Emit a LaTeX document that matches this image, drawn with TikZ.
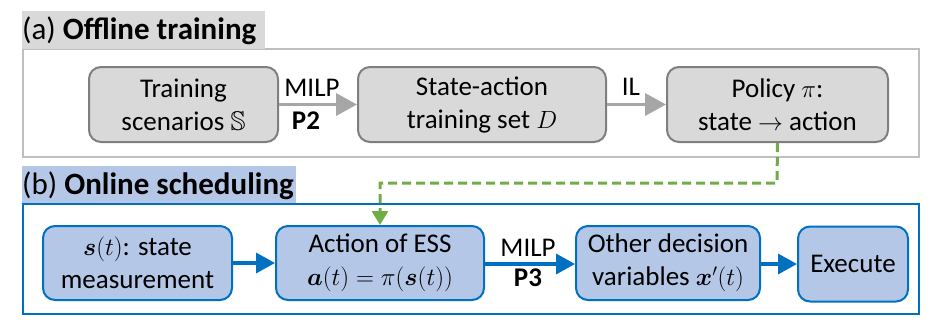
\documentclass[tikz,border=0pt]{standalone}
\usepackage{amsmath,amssymb,bm}
\usepackage{fontspec}
\setmainfont{Carlito}
\usetikzlibrary{arrows.meta,calc}
\definecolor{gfill}{HTML}{D9D9D9}
\definecolor{gborder}{HTML}{7F7F7F}
\definecolor{gouter}{HTML}{BFBFBF}
\definecolor{garrowc}{HTML}{A6A6A6}
\definecolor{bfill}{HTML}{B4C7E7}
\definecolor{bborder}{HTML}{0070C0}
\definecolor{grn}{HTML}{70AD47}
\tikzset{
  txt/.style={font=\fontsize{27}{33}\selectfont},
  ttl/.style={font=\fontsize{31}{36}\selectfont, inner sep=0pt},
  gbox/.style={txt, draw=gborder, fill=gfill, rounded corners=12pt, line width=2pt, align=center, inner sep=0pt},
  bbox/.style={txt, draw=bborder, fill=bfill, rounded corners=12pt, line width=2pt, align=center, inner sep=0pt},
  garrow/.style={draw=garrowc, line width=3.5pt, -{Triangle[length=21pt,width=22pt]}},
  barrow/.style={draw=bborder, line width=3.5pt, -{Triangle[length=19pt,width=20pt]}},
  gnarrow/.style={draw=grn, line width=3pt, dash pattern=on 9pt off 5pt, -{Triangle[length=14pt,width=16pt]}},
  lbl/.style={txt, inner sep=0pt},
}
\begin{document}
\begin{tikzpicture}[x=1pt,y=-1pt]
\useasboundingbox (0,0) rectangle (933,325);
% (a) offline
\node[draw=gouter, line width=1.5pt, minimum width=896pt, minimum height=108pt, anchor=north west, inner sep=0pt] (outA) at (22,48) {};
\node[fill=gfill, minimum width=243pt, minimum height=38pt, anchor=north west, inner sep=0pt] (tA) at (22,11) {};
\node[ttl, anchor=west] (tAt) at ($(tA.west)+(0,1)$) {(a) \textbf{Offline training}};
\node[gbox, minimum width=189pt, minimum height=75pt] (b1) at (183.5,104.5) {Training\\scenarios $\mathbb{S}$};
\node[gbox, minimum width=248pt, minimum height=75pt] (b2) at (482,104.5) {State-action\\training set $D$};
\node[gbox, minimum width=221pt, minimum height=75pt] (b3) at (777.5,104.5) {Policy $\pi$:\\state $\rightarrow$ action};
\draw[garrow] (b1) -- (b2);
\draw[garrow] (b2) -- (b3);
\node[lbl] (m1) at (312,88) {MILP};
\node[lbl] (p2) at (306,121) {\textbf{P2}};
\node[lbl] (il) at (631,87) {IL};
% (b) online
\node[draw=bborder, line width=1.5pt, minimum width=896pt, minimum height=110pt, anchor=north west, inner sep=0pt] (outB) at (22,203) {};
\node[fill=bfill, minimum width=274pt, minimum height=37pt, anchor=north west, inner sep=0pt] (tB) at (22,166) {};
\node[ttl, anchor=west] (tBt) at ($(tB.west)+(0,1)$) {(b) \textbf{Online scheduling}};
\node[bbox, minimum width=189pt, minimum height=74pt] (s) at (137.5,263) {$\bm{s}(t)$: state\\measurement};
\node[bbox, minimum width=208pt, minimum height=74pt] (act) at (380,263) {Action of ESS\\$\bm{a}(t)=\pi(\bm{s}(t))$};
\node[bbox, minimum width=184pt, minimum height=74pt] (oth) at (668,263) {Other decision\\variables $\bm{x}'(t)$};
\node[bbox, minimum width=110pt, minimum height=75pt] (ex) at (853,264) {Execute};
\draw[barrow] (s) -- (act);
\draw[barrow] (act.east |- 0,264) -- (oth.west |- 0,264);
\draw[barrow] (oth.east |- 0,264) -- (ex.west |- 0,264);
\node[lbl] (m2) at (528,248) {MILP};
\node[lbl] (p3) at (528,278) {\textbf{P3}};
\coordinate (gc) at (777,183);
\draw[gnarrow] (b3.south) -- (gc) -| (act.north);
\end{tikzpicture}
\end{document}
